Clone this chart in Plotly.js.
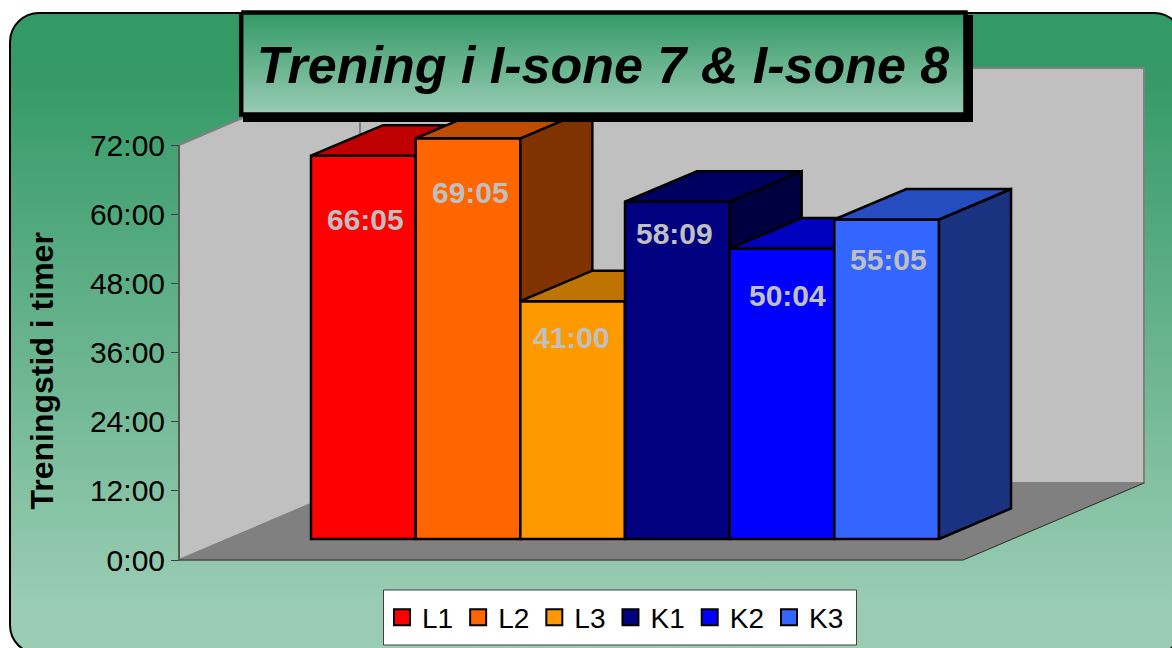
<!DOCTYPE html>
<html>
<head>
<meta charset="utf-8">
<script src="https://cdn.plot.ly/plotly-3.0.1.min.js"></script>
<style>
html,body{margin:0;padding:0;width:1172px;height:648px;overflow:hidden;background:#fff}
#frame{position:absolute;left:9px;top:12px;width:1171px;height:639px;border:2px solid #000;border-radius:30px;
background:linear-gradient(to bottom,#339966 0%,#339966 8%,#99CCB3 92%,#99CCB3 100%)}
#chart{position:absolute;left:0;top:0;width:1172px;height:648px}
</style>
</head>
<body>
<div id="frame"></div>
<div id="chart"></div>
<script>
// ---- data ----
const categories = ["L1","L2","L3","K1","K2","K3"];
const timeLabels = ["66:05","69:05","41:00","58:09","50:04","55:05"];
const frontColors = ["#FF0000","#FF6600","#FF9900","#000080","#0000FF","#3366FF"];
const tickHours = [0,12,24,36,48,60,72];
const tickLabels = ["0:00","12:00","24:00","36:00","48:00","60:00","72:00"];
const chartTitle = "Trening i I-sone 7 & I-sone 8";
const axisTitle = "Treningstid i timer";

// ---- geometry (layout only) ----
const W = 1172, H = 648;
const barPx = 104.67, barLeft = 311, barBase = 539, barHourPx = 5.8;
const axisTop = 145, axisBottom = 560, axisX = 179;
const axisHourPx = (axisBottom-axisTop)/72;
const barDepthPx = [72,30.5], wallDepthPx = [181,77], wallWidthPx = 784;
const labelDrop = [64,54,36,32,47,40], labelShift = [2,2,-1,-3,5,2];

const values = timeLabels.map(s => { const [h,m] = s.split(":").map(Number); return h + m/60; });
const shade = (hex,f) => { const n = parseInt(hex.slice(1),16);
  return "rgb("+[n>>16,(n>>8)&255,n&255].map(c=>Math.round(c*f)).join(",")+")"; };

const xRange = [-0.5 - barLeft/barPx, -0.5 + (W-barLeft)/barPx];
const barYRange = [-(H-barBase)/barHourPx, barBase/barHourPx];
const wallYRange = [-(H-axisBottom)/axisHourPx, axisBottom/axisHourPx];
const dx = barDepthPx[0]/barPx, dy = barDepthPx[1]/barHourPx;

const traces = [];
const poly = (x,y,fill,line,lw,extra) => Object.assign({type:"scatter",mode:"lines",x:x.concat(x[0]),y:y.concat(y[0]),
  fill:"toself",fillcolor:fill,line:{color:line,width:lw},hoverinfo:"skip",showlegend:false},extra||{});

// legend swatches (carried by the visible hour axis)
categories.forEach((c,i)=>traces.push({type:"scatter",mode:"markers",name:c,x:[null],y:[null],
  marker:{symbol:"square",size:16,color:frontColors[i],line:{color:"#000",width:2}},showlegend:true,hoverinfo:"skip"}));

// room: walls and floor, on a full-page copy of the hour scale
const wx0 = -0.5 + (axisX-barLeft)/barPx, wx1 = wx0 + wallWidthPx/barPx;
const wdx = wallDepthPx[0]/barPx, wdh = wallDepthPx[1]/axisHourPx;
const onWall = {yaxis:"y2"};
traces.push(poly([wx0,wx0+wdx,wx0+wdx,wx0],[0,wdh,72+wdh,72],"#C0C0C0","#808080",2,onWall));
traces.push(poly([wx0+wdx,wx1+wdx,wx1+wdx,wx0+wdx],[wdh,wdh,72+wdh,72+wdh],"#C0C0C0","#808080",2,onWall));
traces.push(poly([wx0,wx1,wx1+wdx,wx0+wdx],[0,0,wdh,wdh],"#808080","#808080",1,onWall));
traces.push({type:"scatter",mode:"lines",yaxis:"y2",x:[wx0,wx0,wx1,wx1+wdx],y:[72,0,0,wdh],line:{color:"#303030",width:1},hoverinfo:"skip",showlegend:false});

const layout = {
  width:W,height:H,margin:{l:0,r:0,t:0,b:0,autoexpand:false},
  paper_bgcolor:"rgba(0,0,0,0)",plot_bgcolor:"rgba(0,0,0,0)",
  font:{family:"'Liberation Sans',Arial,sans-serif",color:"#000"},
  showlegend:true,
  title:{text:chartTitle,x:603/W,xref:"paper",xanchor:"center",y:1-65/H,yref:"paper",yanchor:"middle",
    font:{family:"'Liberation Sans',Arial,sans-serif",size:52,weight:700,style:"italic",color:"#000"}},
  legend:{orientation:"h",x:382/W,xanchor:"left",y:1-617.5/H,yanchor:"middle",bgcolor:"rgba(0,0,0,0)",borderwidth:0,
    font:{size:28,color:"#000"},itemclick:false,itemdoubleclick:false},
  shapes:[{type:"rect",xref:"paper",yref:"paper",x0:383.5/W,x1:856.5/W,y0:1-645/H,y1:1-590/H,
    fillcolor:"#fff",line:{color:"#404040",width:1},layer:"above"}],
  xaxis:{domain:[0,1],range:xRange,visible:false,fixedrange:true,anchor:"y"},
  xaxis2:{domain:[0,1],range:[0,W],visible:false,fixedrange:true,anchor:"y9"},
  yaxis:{domain:[(H-axisBottom)/H,(H-axisTop)/H],range:[0,72],anchor:"free",position:axisX/W,
    tickmode:"array",tickvals:tickHours,ticktext:tickLabels,ticks:"outside",ticklen:8,tickwidth:1,tickcolor:"#404040",
    showline:true,linecolor:"#404040",linewidth:1,showgrid:false,zeroline:false,fixedrange:true,
    tickfont:{size:30,color:"#000"},ticklabelstandoff:0},
  yaxis2:{domain:[0,1],range:wallYRange,visible:false,fixedrange:true,anchor:"x"},
  yaxis9:{domain:[0,1],range:[H,0],visible:false,fixedrange:true,anchor:"x2"},
  annotations:[{text:axisTitle,textangle:-90,showarrow:false,xref:"paper",yref:"paper",x:41/W,y:1-371.5/H,
    xanchor:"center",yanchor:"middle",font:{size:32,weight:700,color:"#000"}}],
};

// one subplot per bar so each bar paints over the previous one
categories.forEach((c,i)=>{
  const n = i+3, yid = "y"+n, v = values[i], col = frontColors[i];
  layout["yaxis"+n] = {domain:[0,1],range:barYRange,visible:false,fixedrange:true,anchor:"x"};
  traces.push({type:"bar",x:[i],y:[v],yaxis:yid,width:1,name:c,showlegend:false,
    marker:{color:col,line:{color:"#000",width:2.5}},hovertemplate:c+" "+timeLabels[i]+"<extra></extra>"});
  traces.push(poly([i+.5,i+.5+dx,i+.5+dx,i+.5],[0,dy,v+dy,v],shade(col,.5),"#000",2.5,{yaxis:yid}));
  traces.push(poly([i-.5,i+.5,i+.5+dx,i-.5+dx],[v,v,v+dy,v+dy],shade(col,.75),"#000",2.5,{yaxis:yid}));
  layout.annotations.push({x:i,y:v,xref:"x",yref:yid,text:timeLabels[i],showarrow:false,
    xshift:labelShift[i],yshift:-labelDrop[i],xanchor:"center",yanchor:"middle",
    font:{size:30,weight:700,color:"#C0C0C0"}});
});

// title plate
const rect = (x0,y0,x1,y1)=>({x:[x0,x1,x1,x0,x0],y:[y0,y0,y1,y1,y0]});
traces.push(Object.assign({type:"scatter",mode:"lines",xaxis:"x2",yaxis:"y9",fill:"toself",fillcolor:"#000",line:{color:"#000",width:0},hoverinfo:"skip",showlegend:false},rect(243,15,973,122)));
traces.push(Object.assign({type:"scatter",mode:"lines",xaxis:"x2",yaxis:"y9",fill:"toself",
  fillgradient:{type:"vertical",colorscale:[[0,"#99CCB3"],[1,"#339966"]]},line:{color:"#000",width:4.5},hoverinfo:"skip",showlegend:false},rect(241.2,12.5,965.5,114.5)));

Plotly.newPlot("chart",traces,layout,{displayModeBar:false,responsive:false});
</script>
</body>
</html>
